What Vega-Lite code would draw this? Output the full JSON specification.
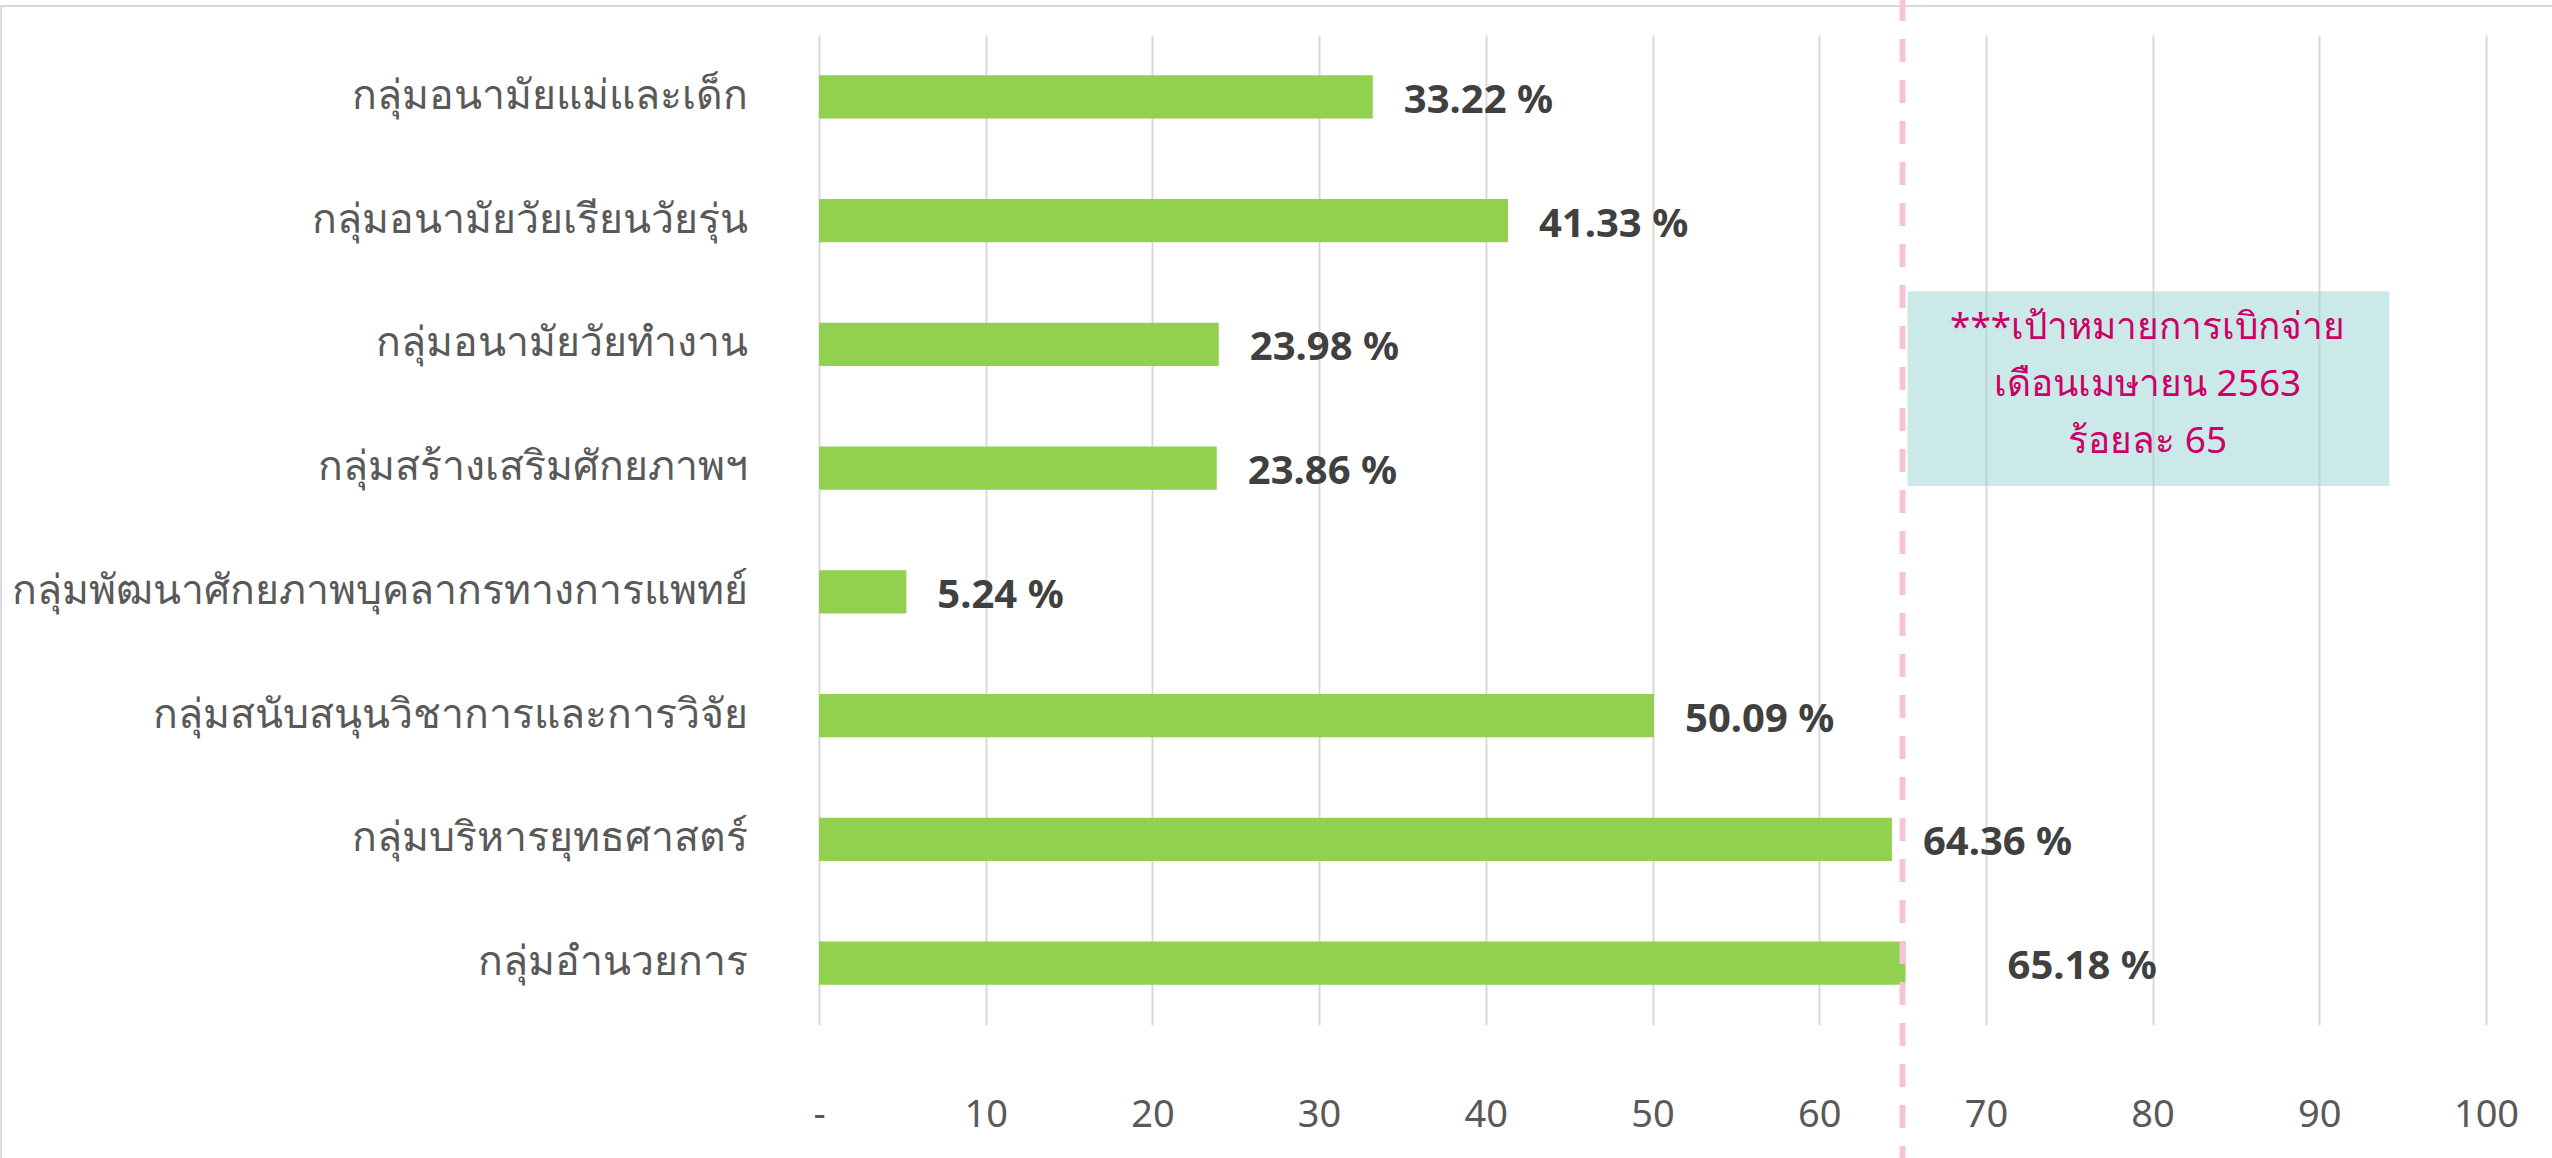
{
  "$schema": "https://vega.github.io/schema/vega-lite/v6.json",
  "autosize": {"type": "none"},
  "padding": {"left": 819, "top": 35, "right": 66, "bottom": 133},
  "width": 1667,
  "height": 990,
  "background": "white",
  "config": {
    "view": {"stroke": null},
    "font": "Noto Sans",
    "axisY": {
      "domain": false, "ticks": false, "grid": false,
      "labelFontSize": 41, "labelColor": "#595959", "labelPadding": 72, "labelLimit": 900
    }
  },
  "datasets": {
    "bars": [
      {"group": "กลุ่มอนามัยแม่และเด็ก", "value": 33.22},
      {"group": "กลุ่มอนามัยวัยเรียนวัยรุ่น", "value": 41.33},
      {"group": "กลุ่มอนามัยวัยทำงาน", "value": 23.98},
      {"group": "กลุ่มสร้างเสริมศักยภาพฯ", "value": 23.86},
      {"group": "กลุ่มพัฒนาศักยภาพบุคลากรทางการแพทย์", "value": 5.24},
      {"group": "กลุ่มสนับสนุนวิชาการและการวิจัย", "value": 50.09},
      {"group": "กลุ่มบริหารยุทธศาสตร์", "value": 64.36},
      {"group": "กลุ่มอำนวยการ", "value": 65.18}
    ],
    "box": [{"bx1": 65.3, "bx2": 94.2, "by1": 2.07, "by2": 3.645}],
    "note": [
      {"line": "***เป้าหมายการเบิกจ่าย", "lx": 79.7, "ly": 2.37},
      {"line": "เดือนเมษายน 2563", "lx": 79.7, "ly": 2.83},
      {"line": "ร้อยละ 65", "lx": 79.7, "ly": 3.29}
    ],
    "target": [{"t": 65, "ya": -0.3, "yb": 9.2}],
    "frame": [{"fx1": -49.06, "fx2": 110, "fy1": -0.235, "fy2": 9.6}]
  },
  "resolve": {"scale": {"y": "independent"}, "axis": {"y": "independent"}},
  "layer": [
    {
      "data": {"name": "bars"},
      "transform": [{"calculate": "format(datum.value, '.2f') + ' %'", "as": "lbl"}],
      "encoding": {
        "y": {
          "field": "group", "type": "nominal", "sort": null, "title": null,
          "scale": {"paddingInner": 0.65, "paddingOuter": 0.325}
        }
      },
      "layer": [
        {
          "mark": {"type": "bar", "color": "#92D050"},
          "encoding": {
            "x": {
              "field": "value", "type": "quantitative", "title": null,
              "scale": {"domain": [0, 100], "nice": false, "zero": false},
              "axis": {
                "values": [0, 10, 20, 30, 40, 50, 60, 70, 80, 90, 100],
                "labelExpr": "datum.value == 0 ? '-' : datum.label",
                "grid": true, "gridColor": "#D9D9D9", "gridWidth": 2,
                "domain": false, "ticks": false, "labelFlush": false,
                "labelFontSize": 38, "labelColor": "#595959", "labelPadding": 71
              }
            }
          }
        },
        {
          "transform": [{"filter": "datum.value < 65"}],
          "mark": {"type": "text", "align": "left", "baseline": "middle", "dx": 31, "dy": 4, "fontSize": 40, "fontWeight": "bold", "color": "#404040"},
          "encoding": {
            "x": {"field": "value", "type": "quantitative", "title": null},
            "text": {"field": "lbl", "type": "nominal"}
          }
        },
        {
          "transform": [{"filter": "datum.value >= 65"}],
          "mark": {"type": "text", "align": "left", "baseline": "middle", "dx": 102, "dy": 4, "fontSize": 40, "fontWeight": "bold", "color": "#404040"},
          "encoding": {
            "x": {"field": "value", "type": "quantitative", "title": null},
            "text": {"field": "lbl", "type": "nominal"}
          }
        }
      ]
    },
    {
      "encoding": {
        "y": {"type": "quantitative", "title": null, "axis": null, "scale": {"domain": [0, 8], "reverse": true, "nice": false, "zero": false}}
      },
      "layer": [
        {
          "data": {"name": "frame"},
          "mark": {"type": "rect", "fill": null, "stroke": "#D9D9D9", "strokeWidth": 2, "clip": false},
          "encoding": {
            "x": {"field": "fx1", "type": "quantitative", "title": null},
            "x2": {"field": "fx2"},
            "y": {"field": "fy1", "type": "quantitative", "title": null},
            "y2": {"field": "fy2"}
          }
        },
        {
          "data": {"name": "box"},
          "mark": {"type": "rect", "fill": "#9ED5D6", "opacity": 0.52},
          "encoding": {
            "x": {"field": "bx1", "type": "quantitative", "title": null},
            "x2": {"field": "bx2"},
            "y": {"field": "by1", "type": "quantitative", "title": null},
            "y2": {"field": "by2"}
          }
        },
        {
          "data": {"name": "note"},
          "mark": {"type": "text", "align": "center", "baseline": "middle", "fontSize": 37, "color": "#CC0066"},
          "encoding": {
            "x": {"field": "lx", "type": "quantitative", "title": null},
            "y": {"field": "ly", "type": "quantitative", "title": null},
            "text": {"field": "line", "type": "nominal"}
          }
        },
        {
          "data": {"name": "target"},
          "mark": {"type": "rule", "color": "#F8C3D8", "strokeWidth": 6, "strokeDash": [23, 18], "clip": false},
          "encoding": {
            "x": {"field": "t", "type": "quantitative", "title": null},
            "y": {"field": "ya", "type": "quantitative", "title": null},
            "y2": {"field": "yb"}
          }
        }
      ]
    }
  ]
}
